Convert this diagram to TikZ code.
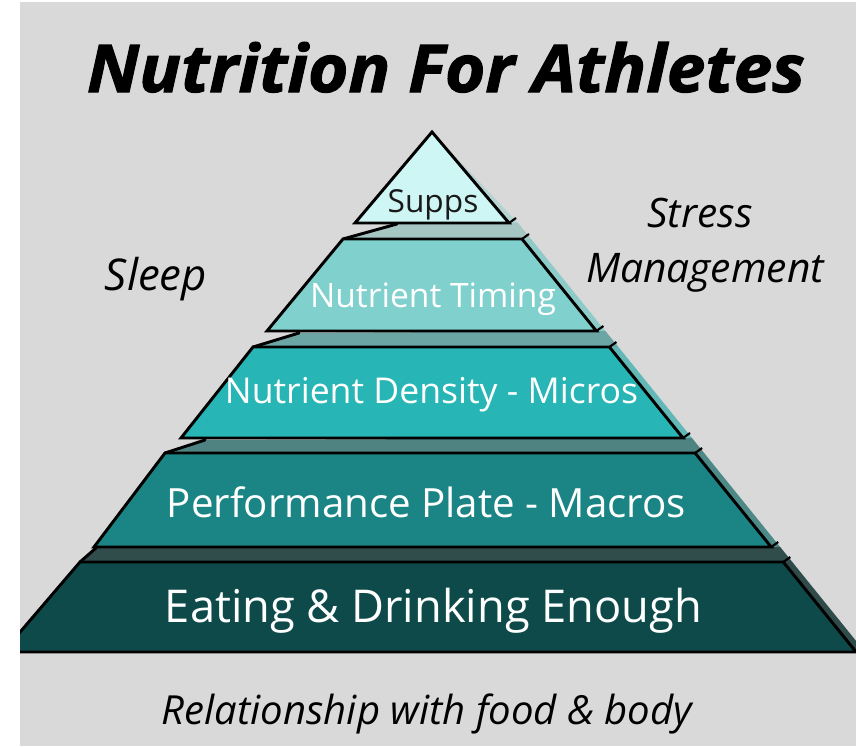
\documentclass[tikz,border=0pt]{standalone}
\usepackage{fontspec}
\setmainfont{Open Sans}
\newfontfamily\titlefont[BoldItalicFeatures={FakeBold=1.6}]{Open Sans}
\usepackage{graphicx}
\newcommand\fitto[2]{\resizebox{#1}{!}{#2}}

% layer fills
\definecolor{lyrA}{HTML}{CDF6F4}
\definecolor{lyrB}{HTML}{80D0CD}
\definecolor{lyrC}{HTML}{27B5B5}
\definecolor{lyrD}{HTML}{1A8584}
\definecolor{lyrE}{HTML}{0E4A4A}
% side faces
\definecolor{sideA}{HTML}{B5D3D1}
\definecolor{sideB}{HTML}{8CCBC8}
\definecolor{sideC}{HTML}{62B8B7}
\definecolor{sideD}{HTML}{4D8987}
\definecolor{sideE}{HTML}{2F4B4A}
% top faces between layers
\definecolor{stripA}{HTML}{A6C6C4}
\definecolor{stripB}{HTML}{6BA6A4}
\definecolor{stripC}{HTML}{4E8381}
\definecolor{stripD}{HTML}{304D4C}
\definecolor{paper}{HTML}{D9D9D9}

\begin{document}
\begin{tikzpicture}[x=0.75pt,y=-0.75pt,
  face/.style={draw=black,line width=2.2pt,line join=miter},
  edge/.style={draw=black,line width=2.2pt,line cap=round},
  tick/.style={draw=black,line width=1.6pt},
  lbl/.style={inner sep=0pt,anchor=base}]
\useasboundingbox (0,0) rectangle (856,746);
\fill[white] (0,0) rectangle (856,746);
\fill[paper] (20,2) rectangle (856,746);

\begin{scope}
\clip (20,2) rectangle (856,746);
% side faces
\fill[sideA] (432,132) -- (518,223) -- (509,223) -- cycle;
\fill[sideB] (512,239) -- (531,239) -- (605.4,331) -- (586.4,331) -- cycle;
\fill[sideC] (599.4,347) -- (618.4,347) -- (692,438) -- (673,438) -- cycle;
\fill[sideD] (685.1,453) -- (704.1,453) -- (780.2,547) -- (761.2,547) -- cycle;
\fill[sideE] (773.3,562) -- (792.3,562) -- (865,652) -- (846,652) -- cycle;
% top faces
\fill[stripA] (343,239) -- (397,224) -- (509,223) -- (518,223) -- (531,239) -- cycle;
\fill[stripB] (253,347) -- (299,333) -- (596,331) -- (605.4,331) -- (618.4,347) -- cycle;
\fill[stripC] (165,453) -- (205,440) -- (683,438) -- (692,438) -- (704.1,453) -- cycle;
\fill[stripD] (80,562) -- (96,548) -- (771,547) -- (780.2,547) -- (792.3,562) -- cycle;
\draw[edge] (343,239) -- (397,224);
\draw[edge] (253,347) -- (299,333);
\draw[edge] (165,453) -- (205,440);
\draw[edge] (80,562) -- (96,548);
% front faces
\coordinate (a1) at (432,132); \coordinate (a2) at (509,223); \coordinate (a3) at (355,223);
\filldraw[face,fill=lyrA] (a1) -- (a2) -- (a3) -- cycle;
\filldraw[face,fill=lyrB] (343,239) -- (522,239) -- (596.4,331) -- (267,331) -- cycle;
\filldraw[face,fill=lyrC] (253,347) -- (609.4,347) -- (683,438) -- (181,438) -- cycle;
\filldraw[face,fill=lyrD] (165,453) -- (695.1,453) -- (771.2,547) -- (94,547) -- cycle;
\filldraw[face,fill=lyrE] (80,562) -- (783.3,562) -- (856.1,652) -- (3,652) -- cycle;
% corner ticks
\foreach \px/\py in {509/223,522/239,596.4/331,609.4/347,683/438,695.1/453,771.2/547,783.3/562}
  \draw[tick] (\px,\py) -- ++(7,-5);
\end{scope}

% labels
\node[lbl] (title) at (446,92) {\resizebox{538.5pt}{37.5pt}{\titlefont\bfseries\itshape Nutrition For Athletes}};
\node[lbl,text=black!90] (supps) at (433,212) {\fitto{68pt}{Supps}};
\node[lbl,text=white] (timing) at (433,307) {\fitto{184.5pt}{Nutrient Timing}};
\node[lbl,text=white] (density) at (431.5,403) {\fitto{309.75pt}{Nutrient Density - Micros}};
\node[lbl,text=white] (plate) at (426.5,517) {\fitto{389.25pt}{Performance Plate - Macros}};
\node[lbl,text=white] (enough) at (433.5,622) {\fitto{402.75pt}{Eating \& Drinking Enough}};
\node[lbl] (sleep) at (156,290) {\fitto{76.5pt}{\itshape Sleep}};
\node[lbl] (stress) at (700,227) {\fitto{78.75pt}{\itshape Stress}};
\node[lbl] (mgmt) at (705,282) {\fitto{178.5pt}{\itshape Management}};
\node[lbl] (rel) at (427,724) {\fitto{397.5pt}{\itshape Relationship with food \& body}};
\end{tikzpicture}
\end{document}
